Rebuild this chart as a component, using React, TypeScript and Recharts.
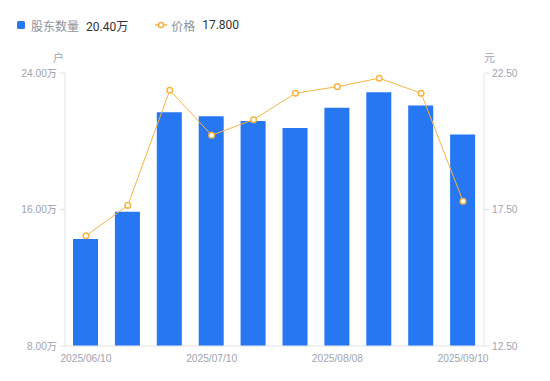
import React from "react";
import { ComposedChart, Bar, Line, XAxis, YAxis } from "recharts";

const dates = [
  "2025/06/10",
  "2025/06/20",
  "2025/06/30",
  "2025/07/10",
  "2025/07/18",
  "2025/07/31",
  "2025/08/08",
  "2025/08/20",
  "2025/08/29",
  "2025/09/10",
];
// 股东数量 (万户)
const holders = [14.27, 15.87, 21.7, 21.46, 21.19, 20.78, 21.97, 22.87, 22.09, 20.4];
// 价格 (元)
const prices = [16.54, 17.65, 21.87, 20.22, 20.79, 21.76, 22.0, 22.31, 21.76, 17.8];

const leftTicks = [8, 16, 24];
const rightTicks = [12.5, 17.5, 22.5];

const BLUE = "#2776F2";
const ORANGE = "#F8B440";
const AXIS = "#E3E4E8";
const TICK = "#A0A3B1";
const FONT = "Roboto, 'Noto Sans CJK SC', sans-serif";
const TICK_FONT = "'Liberation Sans', 'Noto Sans CJK SC', sans-serif";

const data = dates.map((d, i) => ({ date: d, holders: holders[i], price: prices[i] }));

const tickStyle = { fill: TICK, fontSize: 10.2, fontFamily: TICK_FONT };

export default function App() {
  const lastHolders = holders[holders.length - 1];
  const lastPrice = prices[prices.length - 1];

  return (
    <div
      style={{
        position: "absolute",
        left: 0,
        top: 0,
        width: 550,
        height: 381,
        background: "#fff",
        fontFamily: FONT,
      }}
    >
      {/* legend */}
      <div style={{ position: "absolute", top: 16, left: 17, height: 18, display: "flex", alignItems: "center", fontSize: 12 }}>
        <span style={{ width: 8, height: 8, borderRadius: 1.5, background: BLUE, display: "inline-block" }} />
        <span style={{ color: "#8E92A0", marginLeft: 6 }}>股东数量</span>
        <span style={{ color: "#333", marginLeft: 7 }}>{lastHolders.toFixed(2)}万</span>
        <svg width={12} height={10} style={{ marginLeft: 27 }}>
          <line x1={0} y1={5} x2={12} y2={5} stroke={ORANGE} strokeWidth={1.5} />
          <circle cx={6} cy={5} r={2.5} fill="#fff" stroke={ORANGE} strokeWidth={1.5} />
        </svg>
        <span style={{ color: "#8E92A0", marginLeft: 4 }}>价格</span>
        <span style={{ color: "#333", marginLeft: 7 }}>{lastPrice.toFixed(3)}</span>
      </div>

      {/* axis units */}
      <span style={{ position: "absolute", left: 53, top: 49, fontSize: 11, color: TICK }}>户</span>
      <span style={{ position: "absolute", left: 484, top: 49, fontSize: 11, color: TICK }}>元</span>

      <ComposedChart
        width={550}
        height={381}
        data={data}
        margin={{ top: 73, right: 6, left: 5, bottom: 5 }}
        style={{ position: "absolute", left: 0, top: 0 }}
      >
        <XAxis
          dataKey="date"
          interval={2}
          tickLine={false}
          axisLine={{ stroke: AXIS }}
          tick={tickStyle}
          tickMargin={3}
          height={30}
        />
        <YAxis
          yAxisId="left"
          domain={[8, 24]}
          ticks={leftTicks}
          tickFormatter={(v: number) => `${v.toFixed(2)}万`}
          axisLine={{ stroke: AXIS }}
          tickLine={{ stroke: AXIS }}
          tickSize={5}
          tickMargin={3}
          tick={tickStyle}
          width={60}
        />
        <YAxis
          yAxisId="right"
          orientation="right"
          domain={[12.5, 22.5]}
          ticks={rightTicks}
          tickFormatter={(v: number) => v.toFixed(2)}
          axisLine={{ stroke: AXIS }}
          tickLine={{ stroke: AXIS }}
          tickSize={5}
          tickMargin={3}
          tick={tickStyle}
          width={60}
        />
        <Bar yAxisId="left" dataKey="holders" fill={BLUE} barSize={25} isAnimationActive={false} />
        <Line
          yAxisId="right"
          dataKey="price"
          type="linear"
          stroke={ORANGE}
          strokeWidth={1}
          dot={{ r: 2.8, fill: "#fff", stroke: ORANGE, strokeWidth: 1.5 }}
          isAnimationActive={false}
        />
      </ComposedChart>
    </div>
  );
}
